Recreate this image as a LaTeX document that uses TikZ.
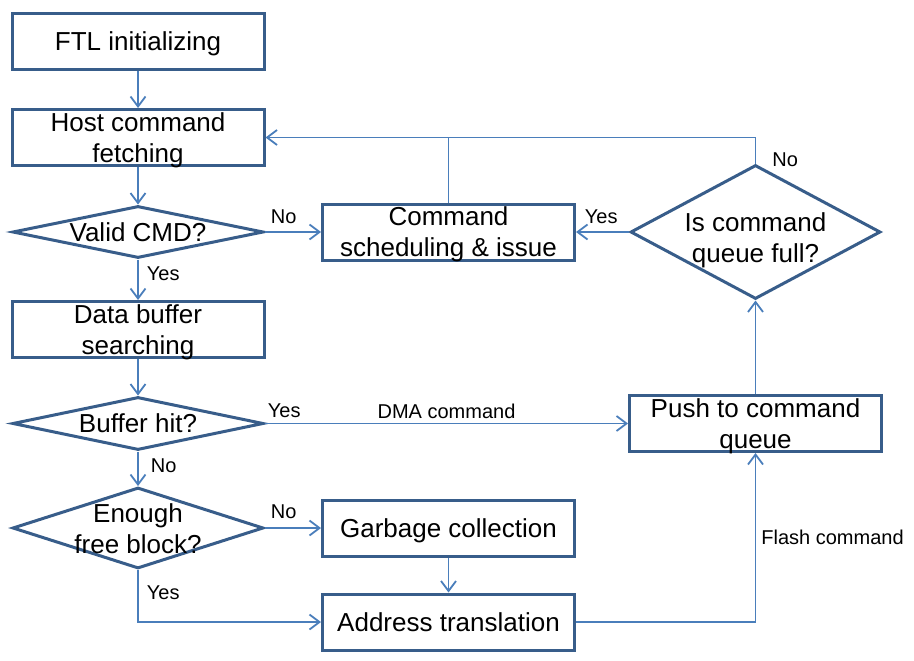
\documentclass[tikz,border=0pt]{standalone}
\usepackage{fontspec}
\setmainfont{Liberation Sans}
\usetikzlibrary{shapes.geometric,arrows.meta}
\definecolor{boxblue}{RGB}{56,93,138}
\definecolor{lineblue}{RGB}{74,126,187}
\begin{document}
\begin{tikzpicture}[x=1pt,y=-1pt,
  box/.style={draw=boxblue,line width=3pt,minimum width=252pt,minimum height=56pt,inner sep=0pt,align=center,text depth=0pt,font=\fontsize{26}{31}\selectfont},
  decision/.style={diamond,draw=boxblue,line width=3pt,inner sep=0pt,minimum width=251pt},
  txt/.style={align=center,font=\fontsize{26}{31}\selectfont},
  flow/.style={draw=lineblue,line width=1.8pt,-{Straight Barb[length=10pt,width=15pt]}},
  link/.style={draw=lineblue,line width=1.8pt},
  lbl/.style={font=\fontsize{20}{24}\selectfont,inner sep=2pt}]
\useasboundingbox (0,0) rectangle (914,661);
\node[box] (ftl) at (138,41.5) {FTL initializing};
\node[box] (host) at (138,137.5) {Host command\\fetching};
\node[decision,minimum height=52pt,label={[txt]center:Valid CMD?}] (valid) at (138,232) {};
\node[box] (dbuf) at (138,329.5) {Data buffer\\searching};
\node[decision,minimum height=53pt,label={[txt]center:Buffer hit?}] (bhit) at (138,423.5) {};
\node[decision,minimum height=81pt,label={[txt,yshift=-1pt]center:Enough\\free block?}] (enough) at (138,528) {};
\node[box] (sched) at (448.5,232) {Command\\scheduling \& issue};
\node[decision,minimum width=250pt,minimum height=134pt,label={[txt,yshift=-8pt]center:Is command\\queue full?}] (full) at (755.5,232) {};
\node[box] (push) at (755.5,423.5) {Push to command\\queue};
\node[box] (gc) at (448.5,528) {Garbage collection};
\node[box] (addr) at (448.5,622) {Address translation};
\draw[flow] (ftl) -- (host);
\draw[flow] (host) -- (valid);
\draw[flow] (valid) -- node[lbl,pos=0.35,right=6pt]{Yes} (dbuf);
\draw[flow] (valid.east) -- node[lbl,pos=0,above right,xshift=3pt,yshift=5pt]{No} (sched.west);
\draw[flow] (full.west) -- node[lbl,pos=1,above right,xshift=6pt,yshift=5pt]{Yes} (sched.east);
\draw[flow] (full.north) |- node[lbl,pos=0.08,right=14pt]{No} (host.east);
\draw[link] (sched.north) -- (sched.north |- host.east);
\draw[flow] (dbuf) -- (bhit);
\draw[flow] (bhit.east) -- node[lbl,pos=0,above right,yshift=3pt]{Yes} node[lbl,above,yshift=2pt]{DMA command} (push.west);
\draw[flow] (bhit) -- node[lbl,pos=0.4,right=10pt]{No} (enough);
\draw[flow] (enough.east) -- node[lbl,pos=0,above right,xshift=3pt,yshift=6pt]{No} (gc.west);
\draw[flow] (enough.south) |- node[lbl,pos=0.22,right=6pt]{Yes} (addr.west);
\draw[flow] (gc) -- (addr);
\draw[flow] (addr.east) -| node[lbl,pos=0.75,right=3pt]{Flash command} (push.south);
\draw[flow] (push) -- (full);
\end{tikzpicture}
\end{document}
